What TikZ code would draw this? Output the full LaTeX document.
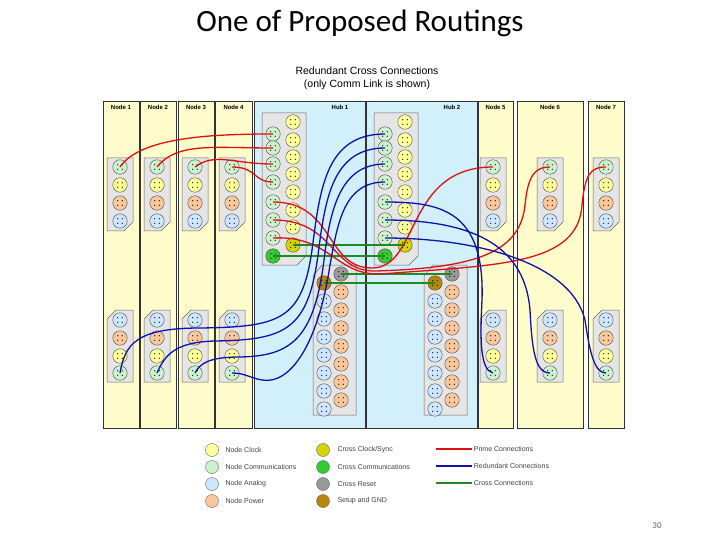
\documentclass[tikz,border=0pt]{standalone}
\usepackage{fontspec}
\setmainfont{Carlito}
\newfontfamily\lsans{Liberation Sans}
\begin{document}
\begin{tikzpicture}[x=1pt,y=-1pt,
  panelY/.style={draw=black!80,line width=0.8pt,fill=yellow!20},
  panelB/.style={draw=black!80,line width=0.8pt,fill=cyan!18},
  blk/.style={draw=black!60,fill=black!10,line width=0.5pt},
  pn/.style={circle,draw=black!70,line width=0.4pt,minimum size=14.5pt,inner sep=0pt,
    path picture={\foreach \a in {45,135,225,315}{\fill[black] (path picture bounding box.center)+(\a:3.2pt) circle (0.7pt);}}},
  ptl/.style={font=\lsans\bfseries\fontsize{6}{7}\selectfont},
  lg/.style={font=\lsans\fontsize{7}{8}\selectfont,text=black!75,anchor=west},
  redc/.style={draw=cRed,line width=1.3pt},
  bluc/.style={draw=cBlu,line width=1.3pt},
  grnc/.style={draw=cGrn,line width=1.1pt}]
\definecolor{cRed}{HTML}{E01010}
\definecolor{cBlu}{HTML}{1010B0}
\definecolor{cGrn}{HTML}{208A20}
\definecolor{cClk}{HTML}{FFFF99}
\definecolor{cCom}{HTML}{CCF2CC}
\definecolor{cAna}{HTML}{CCE6FF}
\definecolor{cPow}{HTML}{F8C89C}
\definecolor{cXClk}{HTML}{D4D400}
\definecolor{cXCom}{HTML}{33CC33}
\definecolor{cXRes}{HTML}{999999}
\definecolor{cGnd}{HTML}{B8860B}
\useasboundingbox (0,0) rectangle (720,540);
\node (title) at (360,23) {\fontsize{31}{36}\selectfont One of Proposed Routings};
\node[font=\lsans\fontsize{10.5}{13}\selectfont,align=center] (sub) at (367,78) {Redundant Cross Connections\\(only Comm Link is shown)};
% panels
\foreach \xa/\xb/\t/\s in {103/139/Node 1/panelY,140/176/Node 2/panelY,178/214/Node 3/panelY,215/252/Node 4/panelY,478/513/Node 5/panelY,517/583/Node 6/panelY,588/624/Node 7/panelY}{
  \path[\s] (\xa,101) rectangle (\xb,428);
  \node[ptl] at ({(\xa+\xb)/2},107) {\t};}
\path[panelB] (254,101) rectangle (365,428); \node[ptl] at (340,107) {Hub 1};
\path[panelB] (366,101) rectangle (477,428); \node[ptl] at (452,107) {Hub 2};
% node blocks
\foreach \i/\x in {1/120,2/157,3/195,4/232,5/493,6/550,7/606}{
  \path[blk] (\x-13,158) -- (\x+13,158) -- (\x+13,222) -- (\x+4,231) -- (\x-13,231) -- cycle;
  \node[pn,fill=cCom] (n\i t) at (\x,167) {};
  \node[pn,fill=cClk] at (\x,185) {};
  \node[pn,fill=cPow] at (\x,203) {};
  \node[pn,fill=cAna] at (\x,221) {};
  \path[blk] (\x-4,310) -- (\x+13,310) -- (\x+13,382) -- (\x-13,382) -- (\x-13,319) -- cycle;
  \node[pn,fill=cAna] at (\x,320) {};
  \node[pn,fill=cPow] at (\x,338) {};
  \node[pn,fill=cClk] at (\x,356) {};
  \node[pn,fill=cCom] (n\i b) at (\x,373) {};}
% hub upper blocks
\foreach \h/\x in {1/273,2/385}{
  \path[blk] (\x-11,113) -- (\x+33,113) -- (\x+33,256) -- (\x+24,265) -- (\x-11,265) -- cycle;
  \foreach \k/\y in {1/134,2/148,3/164,4/182,5/202,6/220,7/238}{
    \node[pn,fill=cCom] (h\h L\k) at (\x,\y) {};}
  \node[pn,fill=cXCom] (h\h L8) at (\x,256) {};
  \foreach \k/\y in {1/122,2/140,3/157,4/174,5/192,6/210,7/227}{
    \node[pn,fill=cClk] (h\h R\k) at (\x+20,\y) {};}
  \node[pn,fill=cXClk] (h\h R8) at (\x+20,245) {};}
% hub lower blocks
\foreach \h/\x in {1/324,2/435}{
  \path[blk] (\x-2,265) -- (\x+32,265) -- (\x+32,415) -- (\x-11,415) -- (\x-11,276) -- cycle;
  \node[pn,fill=cGnd] (g\h L) at (\x,283) {};
  \foreach \k in {1,...,7}{\node[pn,fill=cAna] at (\x,{283+\k*18}) {};}
  \node[pn,fill=cXRes] (g\h R) at (\x+17,274) {};
  \foreach \k in {1,...,7}{\node[pn,fill=cPow] at (\x+17,{274+\k*18}) {};}}
% cross connections
\draw[grnc] (h1R8.center) -- (h2R8.center);
\draw[grnc] (h1L8.center) -- (h2L8.center);
\draw[grnc] (g1R.center) -- (g2R.center);
\draw[grnc] (g1L.center) -- (g2L.center);
% red prime
\draw[redc] (n1t.center) .. controls +(20,-30) and +(-60,0) .. (h1L1.center);
\draw[redc] (n2t.center) .. controls +(20,-25) and +(-60,0) .. (h1L2.center);
\draw[redc] (n3t.center) .. controls +(20,-15) and +(-40,0) .. (h1L3.center);
\draw[redc] (n4t.center) .. controls +(25,0) and +(-20,0) .. (h1L4.center);
\draw[redc] (h1L5.center) .. controls (335,202) and (325,268) .. (372,268) .. controls (420,268) and (405,167) .. (n5t.center);
\draw[redc] (h1L6.center) .. controls (335,220) and (330,272) .. (376,271) .. controls (470,268) and (520,255) .. (525,205) .. controls (528,175) and (535,167) .. (n6t.center);
\draw[redc] (h1L7.center) .. controls (330,235) and (335,275) .. (380,274) .. controls (500,265) and (578,265) .. (582,205) .. controls (585,175) and (590,167) .. (n7t.center);
% blue redundant
\draw[bluc] (h2L1.center) .. controls (325,134) and (320,190) .. (312,250) .. controls (302,320) and (280,327) .. (200,328) .. controls (135,328) and (125,345) .. (n1b.center);
\draw[bluc] (h2L2.center) .. controls (332,148) and (325,200) .. (318,255) .. controls (308,330) and (285,340) .. (215,341) .. controls (175,342) and (165,355) .. (n2b.center);
\draw[bluc] (h2L3.center) .. controls (340,164) and (330,210) .. (324,260) .. controls (314,340) and (290,356) .. (240,357) .. controls (210,357) and (200,363) .. (n3b.center);
\draw[bluc] (h2L4.center) .. controls (345,182) and (338,220) .. (330,265) .. controls (318,345) and (290,385) .. (262,380) .. controls (250,378) and (245,373) .. (n4b.center);
\draw[bluc] (h2L5.center) .. controls (440,202) and (485,210) .. (482,300) .. controls (480,340) and (480,370) .. (n5b.center);
\draw[bluc] (h2L6.center) .. controls (480,220) and (525,250) .. (530,310) .. controls (532,350) and (535,373) .. (n6b.center);
\draw[bluc] (h2L7.center) .. controls (470,238) and (570,260) .. (585,320) .. controls (590,355) and (595,373) .. (n7b.center);
% legend
\foreach \y/\c/\t in {450/cClk/Node Clock,467/cCom/Node Communications,484/cAna/Node Analog,501/cPow/Node Power}{
  \node[circle,draw=black!60,fill=\c,minimum size=13pt,inner sep=0pt] at (212,\y) {};
  \node[lg] at (222,\y) {\t};}
\foreach \y/\c/\t in {450/cXClk/{Cross Clock/Sync},467/cXCom/Cross Communications,484/cXRes/Cross Reset,501/cGnd/Setup and GND}{
  \node[circle,draw=black!60,fill=\c,minimum size=13pt,inner sep=0pt] at (323,\y) {};
  \node[lg] at (334,\y) {\t};}
\foreach \y/\s/\t in {449/redc/Prime Connections,466/bluc/Redundant Connections,483/grnc/Cross Connections}{
  \coordinate (la\y) at (436,\y); \coordinate (lb\y) at (472,\y);
  \draw[\s] (la\y) -- (lb\y);
  \node[lg] at (462,\y) {\hspace{1.2em}\t};}
\node[font=\fontsize{9}{10}\selectfont,text=black!60] (pg) at (657,526) {30};
\end{tikzpicture}
\end{document}
